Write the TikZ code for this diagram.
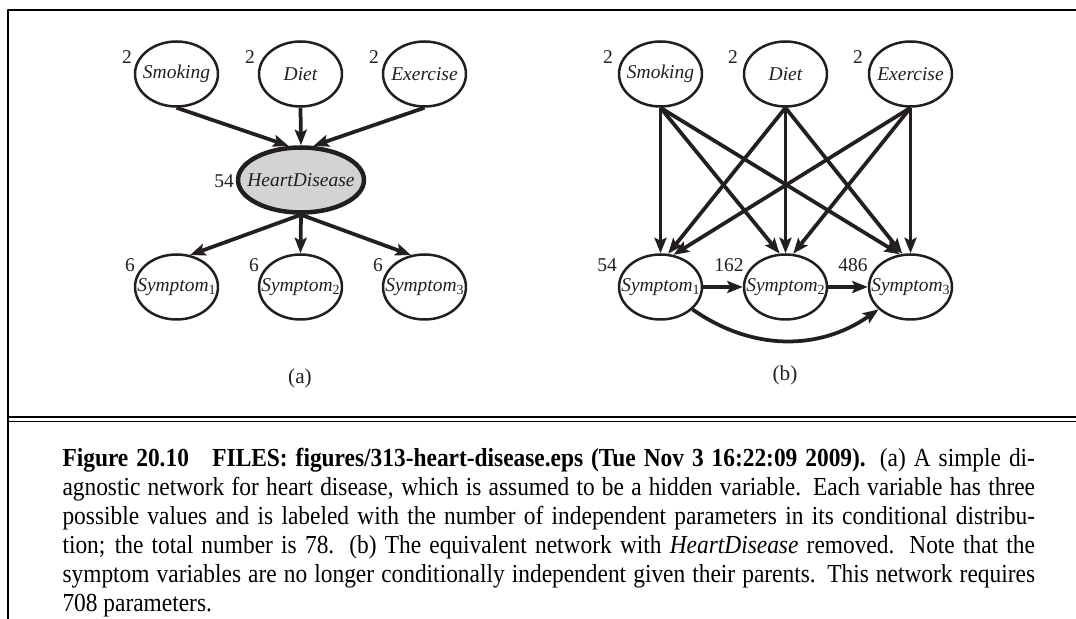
\documentclass[tikz,border=0pt]{standalone}
\usepackage{fontspec}
\setmainfont{Liberation Serif}
\newfontfamily\capfont[FakeStretch=0.9]{Liberation Serif}
\usetikzlibrary{shapes.geometric,arrows.meta}
\definecolor{ink}{RGB}{35,31,32}
\definecolor{hdgray}{RGB}{209,211,212}
\newcommand\mysub[1]{\raisebox{-0.4ex}{\fontsize{5.6pt}{6pt}\selectfont\upshape #1}}
\newcommand\lbl[1]{\makebox[0pt]{#1}}
\newcommand\capline[1]{\makebox[389pt][s]{#1}}
\begin{document}
\begin{tikzpicture}[x=0.4pt,y=-0.4pt,line join=round,
  var/.style={ellipse,draw=ink,line width=1pt,minimum width=33.2pt,minimum height=26pt,
    inner sep=0pt,font=\fontsize{7.8pt}{9pt}\selectfont\itshape,text=ink},
  hid/.style={var,line width=1.8pt,fill=hdgray,minimum width=50.4pt},
  num/.style={font=\fontsize{7.8pt}{9pt}\selectfont,text=ink,inner sep=0pt},
  sublbl/.style={font=\fontsize{8.5pt}{10pt}\selectfont,text=ink,inner sep=0pt},
  arr/.style={-{Stealth[length=6.2pt,width=4.8pt,inset=1.2pt]},line width=1.5pt,draw=ink},
  frame/.style={line width=0.9pt,draw=black},
  rule/.style={line width=0.7pt,draw=black},
  captxt/.style={font=\capfont\fontsize{10.4pt}{11.6pt}\selectfont,text=black,inner sep=0pt}]
\path[use as bounding box] (0,0) rectangle (1076,619);
% frame
\draw[frame] (1080,10) -- (8,10) -- (8,625);
\draw[rule] (8,417) -- (1080,417);
\draw[rule] (8,421.5) -- (1080,421.5);

% ---------- (a)
\node[var] (sm1) at (176.5,74) {\lbl{Smoking}};
\node[var] (di1) at (300.5,74) {\lbl{Diet}};
\node[var] (ex1) at (424.5,74) {\lbl{Exercise}};
\node[hid] (hd) at (301,180) {\lbl{HeartDisease}};
\node[var] (s1a) at (176.5,287) {\lbl{Symptom\mysub{1}}};
\node[var] (s2a) at (300.5,287) {\lbl{Symptom\mysub{2}}};
\node[var] (s3a) at (424.5,287) {\lbl{Symptom\mysub{3}}};
\node[num] (na1) at (127,57) {2};
\node[num] (na2) at (250,57) {2};
\node[num] (na3) at (374,57) {2};
\node[num] (na4) at (224,181) {54};
\node[num] (na5) at (130,265) {6};
\node[num] (na6) at (254,265) {6};
\node[num] (na7) at (378,265) {6};
\draw[arr] (sm1.south) -- (hd.110);
\draw[arr] (di1.south) -- (hd.north);
\draw[arr] (ex1.south) -- (hd.70);
\draw[arr] (hd.south) -- (s1a.67);
\draw[arr] (hd.south) -- (s2a.north);
\draw[arr] (hd.south) -- (s3a.113);
\node[sublbl] (la) at (300,378) {(a)};

% ---------- (b)
\node[var] (sm2) at (660.5,74) {\lbl{Smoking}};
\node[var] (di2) at (785.5,74) {\lbl{Diet}};
\node[var] (ex2) at (910.5,74) {\lbl{Exercise}};
\node[var] (t1) at (660.5,287) {\lbl{Symptom\mysub{1}}};
\node[var] (t2) at (785.5,287) {\lbl{Symptom\mysub{2}}};
\node[var] (t3) at (910.5,287) {\lbl{Symptom\mysub{3}}};
\node[num] (nb1) at (608,57) {2};
\node[num] (nb2) at (733,57) {2};
\node[num] (nb3) at (858,57) {2};
\node[num] (nb4) at (607,265) {54};
\node[num] (nb5) at (729,265) {162};
\node[num] (nb6) at (853,265) {486};
\draw[arr] (sm2.south) -- (t1.north);
\draw[arr] (sm2.south) -- (t2.100);
\draw[arr] (sm2.south) -- (t3.108);
\draw[arr] (di2.south) -- (t1.77);
\draw[arr] (di2.south) -- (t2.north);
\draw[arr] (di2.south) -- (t3.104);
\draw[arr] (ex2.south) -- (t1.68);
\draw[arr] (ex2.south) -- (t2.77);
\draw[arr] (ex2.south) -- (t3.north);
\draw[arr] (t1.east) -- (t2.west);
\draw[arr] (t2.east) -- (t3.west);
\draw[arr] (t1.-35) to[out=-35,in=-145] (t3.-145);
\node[sublbl] (lb) at (785,375) {(b)};

% ---------- caption
\node[captxt,anchor=base west] (c1) at (62,467) {\capline{\textbf{Figure 20.10}\hspace{0.9em}\textbf{FILES: figures/313-heart-disease.eps (Tue Nov 3 16:22:09 2009).} (a) A simple di-}};
\node[captxt,anchor=base west] (c2) at (62,496) {\capline{agnostic network for heart disease, which is assumed to be a hidden variable. Each variable has three}};
\node[captxt,anchor=base west] (c3) at (62,525) {\capline{possible values and is labeled with the number of independent parameters in its conditional distribu-}};
\node[captxt,anchor=base west] (c4) at (62,554) {\capline{tion; the total number is 78. (b) The equivalent network with \textit{HeartDisease} removed. Note that the}};
\node[captxt,anchor=base west] (c5) at (62,583) {\capline{symptom variables are no longer conditionally independent given their parents. This network requires}};
\node[captxt,anchor=base west] (c6) at (62,612) {708 parameters.};
\end{tikzpicture}
\end{document}
